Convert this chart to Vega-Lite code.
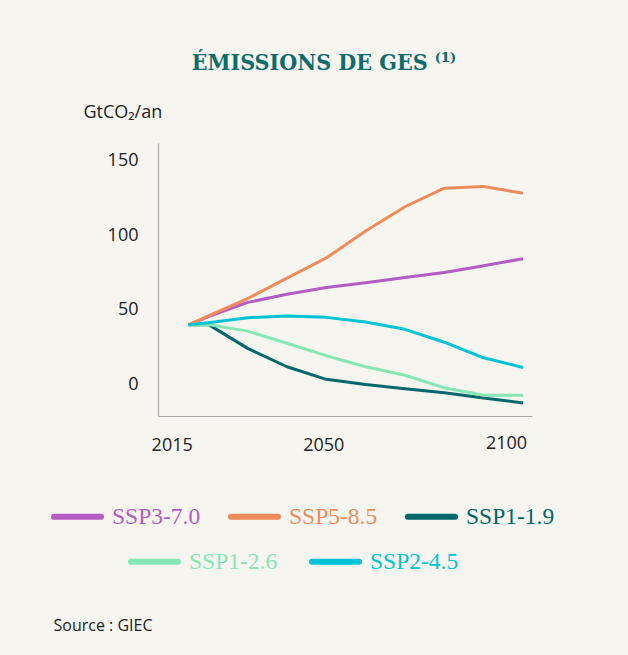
{
  "$schema": "https://vega.github.io/schema/vega-lite/v6.json",
  "width": 628,
  "height": 655,
  "autosize": {"type": "fit", "contains": "padding"},
  "padding": {"left": 53, "right": 96, "top": 52, "bottom": 22},
  "background": "#f6f5f0",
  "title": {
    "text": "ÉMISSIONS DE GES ⁽¹⁾",
    "font": "DejaVu Serif Condensed",
    "fontWeight": "bold",
    "fontSize": 23,
    "color": "#0e6c6b",
    "anchor": "middle",
    "frame": "group",
    "dx": -21,
    "offset": 28
  },
  "config": {"view": {"stroke": null}},
  "data": {
    "values": [
      {"year": 2015, "scenario": "SSP3-7.0", "value": 40},
      {"year": 2020, "scenario": "SSP3-7.0", "value": 45.5},
      {"year": 2030, "scenario": "SSP3-7.0", "value": 55},
      {"year": 2040, "scenario": "SSP3-7.0", "value": 60.4},
      {"year": 2050, "scenario": "SSP3-7.0", "value": 64.9},
      {"year": 2060, "scenario": "SSP3-7.0", "value": 68.2},
      {"year": 2070, "scenario": "SSP3-7.0", "value": 71.6},
      {"year": 2080, "scenario": "SSP3-7.0", "value": 75},
      {"year": 2090, "scenario": "SSP3-7.0", "value": 79.5},
      {"year": 2100, "scenario": "SSP3-7.0", "value": 84.2},
      {"year": 2015, "scenario": "SSP5-8.5", "value": 40},
      {"year": 2020, "scenario": "SSP5-8.5", "value": 46},
      {"year": 2030, "scenario": "SSP5-8.5", "value": 57.6},
      {"year": 2040, "scenario": "SSP5-8.5", "value": 71.2},
      {"year": 2050, "scenario": "SSP5-8.5", "value": 84.7},
      {"year": 2060, "scenario": "SSP5-8.5", "value": 102.7},
      {"year": 2070, "scenario": "SSP5-8.5", "value": 118.9},
      {"year": 2080, "scenario": "SSP5-8.5", "value": 131.3},
      {"year": 2090, "scenario": "SSP5-8.5", "value": 132.4},
      {"year": 2100, "scenario": "SSP5-8.5", "value": 127.9},
      {"year": 2015, "scenario": "SSP1-1.9", "value": 40},
      {"year": 2020, "scenario": "SSP1-1.9", "value": 40.3},
      {"year": 2030, "scenario": "SSP1-1.9", "value": 24.3},
      {"year": 2040, "scenario": "SSP1-1.9", "value": 12},
      {"year": 2050, "scenario": "SSP1-1.9", "value": 3.6},
      {"year": 2060, "scenario": "SSP1-1.9", "value": 0.2},
      {"year": 2070, "scenario": "SSP1-1.9", "value": -2.7},
      {"year": 2080, "scenario": "SSP1-1.9", "value": -5.4},
      {"year": 2090, "scenario": "SSP1-1.9", "value": -8.8},
      {"year": 2100, "scenario": "SSP1-1.9", "value": -12.2},
      {"year": 2015, "scenario": "SSP1-2.6", "value": 40},
      {"year": 2020, "scenario": "SSP1-2.6", "value": 40.3},
      {"year": 2030, "scenario": "SSP1-2.6", "value": 35.8},
      {"year": 2040, "scenario": "SSP1-2.6", "value": 27.7},
      {"year": 2050, "scenario": "SSP1-2.6", "value": 19.4},
      {"year": 2060, "scenario": "SSP1-2.6", "value": 12},
      {"year": 2070, "scenario": "SSP1-2.6", "value": 6.3},
      {"year": 2080, "scenario": "SSP1-2.6", "value": -2},
      {"year": 2090, "scenario": "SSP1-2.6", "value": -7},
      {"year": 2100, "scenario": "SSP1-2.6", "value": -7},
      {"year": 2015, "scenario": "SSP2-4.5", "value": 40},
      {"year": 2020, "scenario": "SSP2-4.5", "value": 41.4},
      {"year": 2030, "scenario": "SSP2-4.5", "value": 44.8},
      {"year": 2040, "scenario": "SSP2-4.5", "value": 45.9},
      {"year": 2050, "scenario": "SSP2-4.5", "value": 45},
      {"year": 2060, "scenario": "SSP2-4.5", "value": 41.9},
      {"year": 2070, "scenario": "SSP2-4.5", "value": 37},
      {"year": 2080, "scenario": "SSP2-4.5", "value": 28.4},
      {"year": 2090, "scenario": "SSP2-4.5", "value": 18},
      {"year": 2100, "scenario": "SSP2-4.5", "value": 11.5}
    ]
  },
  "encoding": {
    "x": {
      "field": "year",
      "type": "quantitative",
      "scale": {"domain": [2007.2, 2102.3], "nice": false, "zero": false},
      "axis": {
        "values": [2015, 2050, 2100],
        "format": "d",
        "ticks": false,
        "grid": false,
        "domainColor": "#a8a8a8",
        "domainWidth": 1.2,
        "labelFont": "Open Sans",
        "labelFontSize": 18,
        "labelColor": "#222222",
        "labelPadding": {"condition": {"test": "datum.value === 2100", "value": 18}, "value": 20},
        "labelOffset": {"condition": {"test": "datum.value === 2050", "value": -3}, "value": -17},
        "labelFlush": false,
        "title": "Source : GIEC",
        "titleFont": "Open Sans",
        "titleFontSize": 16,
        "titleFontWeight": "normal",
        "titleColor": "#222222",
        "titleAnchor": "start",
        "titleAlign": "left",
        "titleBaseline": "middle",
        "titleX": -105,
        "titleY": 209
      }
    },
    "y": {
      "field": "value",
      "type": "quantitative",
      "scale": {"domain": [-20.9, 161.5], "nice": false, "zero": false},
      "axis": {
        "values": [0, 50, 100, 150],
        "ticks": false,
        "grid": false,
        "domainColor": "#a8a8a8",
        "domainWidth": 1.2,
        "labelFont": "Open Sans",
        "labelFontSize": 18,
        "labelColor": "#222222",
        "labelPadding": 20,
        "title": "GtCO₂/an",
        "titleFont": "Open Sans",
        "titleFontSize": 18,
        "titleFontWeight": "normal",
        "titleColor": "#222222",
        "titleAngle": 0,
        "titleAlign": "left",
        "titleBaseline": "middle",
        "titleX": -75,
        "titleY": -31
      }
    }
  },
  "layer": [
    {
      "transform": [{"filter": {"field": "scenario", "oneOf": ["SSP3-7.0", "SSP5-8.5", "SSP1-1.9"]}}],
      "mark": {"type": "line", "strokeWidth": 3, "strokeJoin": "round"},
      "encoding": {
        "color": {
          "field": "scenario",
          "type": "nominal",
          "scale": {"domain": ["SSP3-7.0", "SSP5-8.5", "SSP1-1.9"], "range": ["#b45cc4", "#f08c5c", "#00676b"]},
          "legend": {
            "title": null,
            "orient": "none",
            "legendX": -107,
            "legendY": 347,
            "direction": "horizontal",
            "gridAlign": "all",
            "symbolType": "stroke",
            "symbolSize": 2209,
            "symbolStrokeWidth": 6,
            "labelFont": "Liberation Serif",
            "labelFontSize": 23.5,
            "labelOffset": 8,
            "columnPadding": 18,
            "labelLimit": 200,
            "encode": {
              "labels": {"update": {"fill": {"signal": "datum.value === 'SSP3-7.0' ? '#b45cc4' : datum.value === 'SSP5-8.5' ? '#f08c5c' : '#00676b'"}}},
              "symbols": {"update": {"strokeCap": {"value": "round"}}}
            }
          }
        }
      }
    },
    {
      "transform": [{"filter": {"field": "scenario", "oneOf": ["SSP1-2.6", "SSP2-4.5"]}}],
      "mark": {"type": "line", "strokeWidth": 3, "strokeJoin": "round"},
      "encoding": {
        "color": {
          "field": "scenario",
          "type": "nominal",
          "scale": {"domain": ["SSP1-2.6", "SSP2-4.5"], "range": ["#86e6b5", "#00c3d5"]},
          "legend": {
            "title": null,
            "orient": "none",
            "legendX": -30,
            "legendY": 392,
            "direction": "horizontal",
            "symbolType": "stroke",
            "symbolSize": 2209,
            "symbolStrokeWidth": 6,
            "labelFont": "Liberation Serif",
            "labelFontSize": 23.5,
            "labelOffset": 8,
            "columnPadding": 22,
            "labelLimit": 200,
            "encode": {
              "labels": {"update": {"fill": {"signal": "datum.value === 'SSP1-2.6' ? '#86e6b5' : '#00c3d5'"}}},
              "symbols": {"update": {"strokeCap": {"value": "round"}}}
            }
          }
        }
      }
    }
  ],
  "resolve": {"scale": {"color": "independent"}, "legend": {"color": "independent"}}
}
